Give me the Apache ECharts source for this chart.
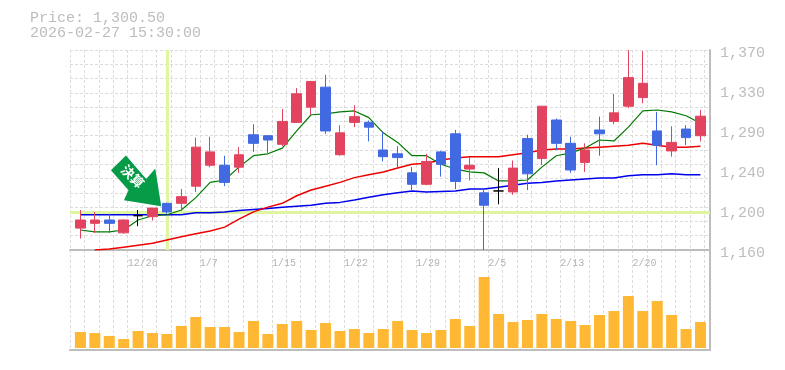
<!DOCTYPE html>
<html><head><meta charset="utf-8">
<style>html,body{margin:0;padding:0;background:#fff}#c{width:785px;height:370px}</style>
<script src="https://cdn.jsdelivr.net/npm/echarts@6/dist/echarts.min.js"></script>
</head><body><div id="c"></div>
<script>
const titleLine1 = 'Price: 1,300.50';
const titleLine2 = '2026-02-27 15:30:00';
const categories = ['12/19','12/22','12/23','12/24','12/25','12/26','12/29','12/30','1/5','1/6','1/7','1/8','1/9','1/13','1/14','1/15','1/16','1/19','1/20','1/21','1/22','1/23','1/26','1/27','1/28','1/29','1/30','2/2','2/3','2/4','2/5','2/6','2/9','2/10','2/12','2/13','2/16','2/17','2/18','2/19','2/20','2/24','2/25','2/26'];
const opens  = [1183,1188,1191.5,1178,1196,1195,1209,1209,1227,1249,1249,1247,1281,1280,1271,1294,1310,1331,1260,1294,1294,1265,1261,1241,1229,1263,1282,1245,1220,1222,1221,1277,1256,1296.5,1272,1252,1286,1295,1311,1320,1285,1264,1287,1280];
const closes = [1191.5,1191.5,1188,1191.5,1196,1204,1200,1216,1268,1263,1231,1260,1272,1275.5,1295,1324,1337,1285,1283,1300,1289,1258,1257,1229,1253,1250,1232,1249,1207,1222,1246,1240,1311,1272,1244,1265,1282,1304,1341,1335,1270,1273,1278,1300.5];
const highs  = [1202,1200,1198,1192,1202,1204,1209.5,1224,1278,1279,1259,1268,1292,1280,1308,1330,1337,1344,1291,1312,1296,1284,1269,1247,1261,1264,1286,1258,1224,1246,1254,1281,1311,1298,1279,1272,1300,1324,1370,1369,1305,1290,1291,1307];
const lows   = [1172,1178,1178,1177,1185,1191,1198,1201,1221,1247,1227,1241,1263,1262,1269,1294,1302,1282,1259,1289,1274,1253,1245,1222,1228,1237,1224,1233,1160,1208,1218,1223,1249,1265,1241,1242,1259,1292,1309,1314,1249,1258,1270,1274];
const ma5  = [1181,1179,1179,1181,1191.5,1196,1197,1202,1215,1231,1233.5,1247,1259,1261,1267,1285,1302,1303,1305,1306,1299,1283,1273,1259,1259,1250,1245,1242,1241,1232.5,1232.5,1233.5,1247,1259,1262,1267,1275.5,1274.5,1289,1306,1307,1305,1301,1293];
const ma25 = [null,1160,1161,1163,1165,1167,1170.5,1174,1177,1180,1184,1192.5,1200,1205,1209,1217,1223,1227,1231,1236,1239,1242,1246,1250,1251,1254.5,1256.5,1258,1258,1258,1260,1262,1265,1266,1266,1267,1268,1269,1270,1272,1270,1268,1268,1269];
const ma75 = [1197,1197,1197,1197,1197,1197,1197,1197,1199,1199,1200,1201.5,1202.5,1203.5,1205,1206,1207,1209,1210,1212.5,1215.5,1218,1220,1222,1221,1221.5,1222,1224,1224,1226,1228,1230,1231,1232.5,1233.5,1234.5,1235.5,1235.5,1238,1239,1239,1240,1239,1239];
const volumes = [16000,15000,12000,9000,17000,15000,14000,22000,31000,21000,21000,16000,27000,14000,24000,27000,18000,25000,17000,19000,15000,19000,27000,18000,15000,18000,29000,22000,71000,34000,26000,28000,34000,29000,27000,23000,33000,37000,52000,37000,47000,33000,19000,26000];
const priceTicks = [1160,1202,1244,1286,1328,1370];
const priceTickLabels = ['1,160','1,200','1,240','1,290','1,330','1,370'];
const gridPrices = [1160,1175,1190,1205,1220,1235,1250,1265,1280,1295,1310,1325,1340,1355,1370];
const dateLabelSlots = [4,9,14,19,24,29,34,39];
const dateLabels = ['12/26','1/7','1/15','1/22','1/29','2/5','2/13','2/20'];
const gridColumns = Array.from({length:45},(_,k)=>k);
const signalIndex = 6, signalPrice = 1200;
const arrowLabel = '決算';

const GRAY='#bdbdbd', DASH='#dcdcdc', MONO='"Liberation Mono","DejaVu Sans Mono",monospace';
const RED='#e2445f', BLUE='#4169e1';
const dash={type:[3,2],color:DASH,width:1};
const L=70,W=640,STEP=14.42;
const candles=categories.map((_,i)=>[opens[i],closes[i],lows[i],highs[i]]);
const vMax=W/STEP;
const line=(name,data,color,width)=>({name,type:'line',xAxisIndex:1,yAxisIndex:1,data,symbol:'none',smooth:false,
  lineStyle:{color,width},itemStyle:{color},z:3,silent:true,animation:false,connectNulls:false});

const chart=echarts.init(document.getElementById('c'),null,{renderer:'canvas'});
chart.setOption({
  animation:false,backgroundColor:'#fff',
  title:{left:25,top:6,text:titleLine1+'\n'+titleLine2,
    textStyle:{fontFamily:MONO,fontSize:15,fontWeight:'normal',color:GRAY,lineHeight:15}},
  grid:[
    {left:L,width:W,top:50,height:200},
    {left:L+3.2,width:STEP*categories.length,top:50,height:200},
    {left:L,width:W,top:250,height:100},
    {left:L+3.2,width:STEP*categories.length,top:250,height:98}
  ],
  xAxis:[
    {gridIndex:0,type:'value',min:0,max:vMax,position:'bottom',
      axisLine:{show:true,onZero:false,lineStyle:{color:GRAY,width:2}},
      axisTick:{show:false,customValues:gridColumns},
      splitLine:{show:true,lineStyle:dash},
      axisLabel:{show:true,customValues:dateLabelSlots,formatter:v=>dateLabels[dateLabelSlots.indexOf(v)],
        color:'#b4b4b4',fontFamily:MONO,fontSize:10,align:'left',margin:8,showMinLabel:true,showMaxLabel:true}},
    {gridIndex:1,type:'category',data:categories,boundaryGap:true,axisLine:{show:false},axisTick:{show:false},axisLabel:{show:false},splitLine:{show:false}},
    {gridIndex:2,type:'value',min:0,max:vMax,position:'bottom',
      axisLine:{show:true,onZero:false,lineStyle:{color:GRAY,width:2}},
      axisTick:{show:false,customValues:gridColumns},
      splitLine:{show:true,lineStyle:dash},
      axisLabel:{show:false}},
    {gridIndex:3,type:'category',data:categories,boundaryGap:true,axisLine:{show:false},axisTick:{show:false},axisLabel:{show:false},splitLine:{show:false}}
  ],
  yAxis:[
    {gridIndex:0,type:'value',position:'right',min:1160,max:1370,
      axisLine:{show:true,onZero:false,lineStyle:{color:GRAY,width:2}},
      axisTick:{show:false,customValues:gridPrices},
      splitLine:{show:true,lineStyle:dash},
      axisLabel:{show:true,customValues:priceTicks,formatter:v=>priceTickLabels[priceTicks.indexOf(v)],
        color:GRAY,fontFamily:MONO,fontSize:15,margin:10,verticalAlign:'top',lineHeight:6,showMinLabel:true,showMaxLabel:true}},
    {gridIndex:1,type:'value',min:1160,max:1370,axisLine:{show:false},axisTick:{show:false},axisLabel:{show:false},splitLine:{show:false}},
    {gridIndex:2,type:'value',position:'right',min:0,max:100,
      axisLine:{show:true,onZero:false,lineStyle:{color:GRAY,width:2}},
      axisTick:{show:false},axisLabel:{show:false},splitLine:{show:false}},
    {gridIndex:3,type:'value',min:0,max:98000,axisLine:{show:false},axisTick:{show:false},axisLabel:{show:false},splitLine:{show:false}}
  ],
  series:[
    {name:'highlight',type:'line',xAxisIndex:0,yAxisIndex:0,data:[],z:1,silent:true,
      markLine:{silent:true,symbol:'none',label:{show:false},animation:false,z:1,
        lineStyle:{color:'#e0f5a0',width:3,type:'solid'},
        data:[{yAxis:signalPrice},{xAxis:signalIndex+0.72}]}},
    line('ma75',ma75,'#0000ee',1.5),
    line('ma25',ma25,'#ee0000',1.5),
    line('ma5',ma5,'#007a00',1.2),
    {name:'price',type:'candlestick',xAxisIndex:1,yAxisIndex:1,data:candles,barWidth:10,z:4,silent:true,
      itemStyle:{color:RED,color0:BLUE,borderColor:RED,borderColor0:BLUE,borderColorDoji:'#000',borderWidth:1},
      markPoint:{silent:true,animation:false,z:6,data:[{
        coord:[categories[4],1232.5],
        symbol:'path://M125.7 156 L110.7 170.7 L128.3 190.7 L123.7 200.7 L161 206.7 L155 169 L146 179.3 Z',
        symbolSize:[50.3,50.7],symbolOffset:[-2,0],
        itemStyle:{color:'#069b47'},
        label:{show:true,position:'inside',offset:[-5.5,-0.7],formatter:arrowLabel,rotate:-45,color:'#fff',
          fontSize:13,fontWeight:'bold',fontFamily:'"Noto Sans CJK JP"'}
      }]}},
    {name:'volume',type:'bar',xAxisIndex:3,yAxisIndex:3,data:volumes,barWidth:11,itemStyle:{color:'#ffb833'},z:3,silent:true}
  ]
});
</script></body></html>
